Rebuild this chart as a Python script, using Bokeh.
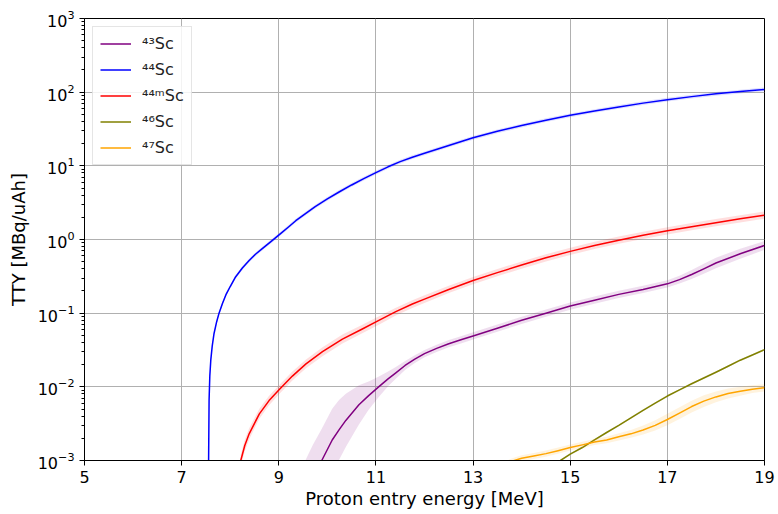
from bokeh.plotting import figure
from bokeh.models import ColumnDataSource, FixedTicker, LogTickFormatter
from bokeh.embed import file_html
from bokeh.resources import INLINE

# ---- data ----
sc43_e = [9.5, 9.7, 9.885, 10.1, 10.24, 10.38, 10.65, 10.85, 11.05, 11.25, 11.41, 11.6, 11.8, 12.0,
          12.25, 12.5, 12.75, 13.0, 13.5, 14.0, 14.5, 15.0, 15.5, 16.0, 16.5, 17.0, 17.25, 17.5,
          17.75, 18.0, 18.5, 19.0]
sc43_y = [0.00032, 0.0006, 0.001, 0.0019, 0.0026, 0.0035, 0.0057, 0.0076, 0.0099, 0.0128, 0.0155,
          0.0195, 0.0238, 0.0282, 0.0333, 0.0385, 0.0435, 0.049, 0.0625, 0.080, 0.10, 0.125, 0.15,
          0.18, 0.21, 0.25, 0.285, 0.335, 0.40, 0.48, 0.64, 0.83]
sc43_f = [2.7, 2.7, 2.7, 2.65, 2.55, 2.3, 1.85, 1.55, 1.38, 1.26, 1.2, 1.15, 1.13, 1.12,
          1.12, 1.12, 1.12, 1.12, 1.12, 1.12, 1.12, 1.12, 1.12, 1.12, 1.12, 1.12, 1.13, 1.15,
          1.17, 1.18, 1.17, 1.15]

sc44_e = [7.54, 7.555, 7.565, 7.58, 7.6, 7.63, 7.667, 7.72, 7.77, 7.84, 7.91, 8.0, 8.11, 8.25, 8.39,
          8.52, 8.66, 8.85, 9.03, 9.2, 9.35, 9.55, 9.75, 10.0, 10.25, 10.5, 10.75, 11.0, 11.25, 11.5,
          11.75, 12.0, 12.5, 13.0, 13.5, 14.0, 14.5, 15.0, 15.5, 16.0, 16.5, 17.0, 17.5, 18.0, 18.5,
          19.0]
sc44_y = [0.0001, 0.001, 0.0066, 0.014, 0.023, 0.036, 0.053, 0.076, 0.1, 0.135, 0.177, 0.23, 0.31,
          0.41, 0.52, 0.63, 0.75, 0.95, 1.19, 1.48, 1.8, 2.25, 2.8, 3.55, 4.45, 5.5, 6.7, 8.1, 9.7,
          11.4, 13.1, 14.8, 18.9, 24.0, 29.4, 35.2, 41.7, 48.5, 55.5, 63, 71, 79, 87, 95, 102, 109]
sc44_f = [1.06] * len(sc44_e)

sc44m_e = [8.15, 8.217, 8.3, 8.39, 8.5, 8.6, 8.8, 9.03, 9.28, 9.56, 9.9, 10.31, 10.72, 11.05, 11.41,
           11.75, 12.0, 12.5, 13.0, 13.5, 14.0, 14.5, 15.0, 15.5, 16.0, 16.5, 17.0, 17.5, 18.0,
           18.5, 19.0]
sc44m_y = [0.0003, 0.001, 0.0016, 0.0023, 0.0032, 0.0043, 0.0065, 0.0095, 0.0140, 0.0205, 0.030,
           0.0445, 0.061, 0.079, 0.105, 0.133, 0.155, 0.21, 0.277, 0.355, 0.45, 0.565, 0.69, 0.83,
           0.98, 1.14, 1.31, 1.49, 1.69, 1.91, 2.14]
sc44m_f = [1.2, 1.2, 1.2, 1.19, 1.18, 1.17, 1.16, 1.15, 1.15, 1.15, 1.15, 1.15, 1.14, 1.14, 1.13,
           1.13, 1.13, 1.12, 1.12, 1.12, 1.12, 1.12, 1.12, 1.12, 1.12, 1.12, 1.12, 1.12, 1.12,
           1.12, 1.12]

sc46_e = [14.6, 14.8, 15.0, 15.25, 15.5, 15.75, 16.0, 16.25, 16.5, 16.75, 17.0, 17.25, 17.5, 17.75,
          18.0, 18.25, 18.5, 18.75, 19.0]
sc46_y = [0.0007, 0.001, 0.00122, 0.0015, 0.0019, 0.0024, 0.0030, 0.0038, 0.0048, 0.006, 0.0075,
          0.0091, 0.011, 0.0132, 0.0158, 0.019, 0.023, 0.027, 0.032]
sc46_f = [1.03] * len(sc46_e)

sc47_e = [13.5, 13.85, 14.0, 14.25, 14.5, 14.75, 15.0, 15.25, 15.5, 15.75, 16.0, 16.25, 16.5, 16.75,
          17.0, 17.25, 17.5, 17.75, 18.0, 18.25, 18.5, 18.75, 19.0]
sc47_y = [0.0008, 0.001, 0.00107, 0.00115, 0.00124, 0.00136, 0.0015, 0.00163, 0.00178, 0.0019,
          0.0021, 0.0023, 0.0026, 0.003, 0.0036, 0.0044, 0.0054, 0.0064, 0.0073, 0.0081, 0.0087,
          0.0093, 0.0097]
sc47_f = [1.1, 1.1, 1.1, 1.1, 1.1, 1.1, 1.1, 1.1, 1.1, 1.11, 1.12, 1.13, 1.15, 1.17, 1.2, 1.2,
          1.2, 1.2, 1.18, 1.17, 1.15, 1.13, 1.12]

labels = ["\u2074\u00b3Sc", "\u2074\u2074Sc", "\u2074\u2074\u1d50Sc", "\u2074\u2076Sc", "\u2074\u2077Sc"]
colors = ["purple", "blue", "red", "olive", "orange"]
x_ticks = [5, 7, 9, 11, 13, 15, 17, 19]
y_ticks = [1e-3, 1e-2, 1e-1, 1e0, 1e1, 1e2, 1e3]

series = [(sc43_e, sc43_y, sc43_f), (sc44_e, sc44_y, sc44_f), (sc44m_e, sc44m_y, sc44m_f),
          (sc46_e, sc46_y, sc46_f), (sc47_e, sc47_y, sc47_f)]

FONT = "DejaVu Sans"

p = figure(width=778, height=514, x_range=(5, 19), y_range=(1e-3, 1e3), y_axis_type="log",
           output_backend="svg", toolbar_location=None,
           min_border_left=84, min_border_right=14, min_border_top=18, min_border_bottom=54)
p.background_fill_color = "white"
p.border_fill_color = "white"
p.outline_line_color = "black"
p.outline_line_width = 1
p.outline_line_alpha = 1

for (e, y, f), lab, col in zip(series, labels, colors):
    lo = [v / k for v, k in zip(y, f)]
    hi = [v * k for v, k in zip(y, f)]
    src = ColumnDataSource(dict(x=e, y=y, lo=lo, hi=hi))
    p.varea(x="x", y1="lo", y2="hi", source=src, fill_color=col, fill_alpha=0.13)
    p.line(x="x", y="y", source=src, line_color=col, line_width=1.5, legend_label=lab,
           line_join="round")

minor = [m * 10.0 ** k for k in range(-3, 3) for m in range(2, 10)]
p.yaxis.ticker = FixedTicker(ticks=y_ticks, minor_ticks=minor)
p.yaxis.formatter = LogTickFormatter()
p.xaxis.ticker = FixedTicker(ticks=x_ticks)
p.xgrid.ticker = FixedTicker(ticks=x_ticks)
p.ygrid.ticker = FixedTicker(ticks=y_ticks)

for g in (p.xgrid, p.ygrid):
    g.grid_line_color = "#b0b0b0"
    g.grid_line_width = 1
    g.grid_line_alpha = 1

for ax in (p.xaxis, p.yaxis):
    ax.axis_line_color = "black"
    ax.axis_line_width = 1
    ax.major_tick_line_color = "black"
    ax.major_tick_out = 5
    ax.major_tick_in = 0
    ax.minor_tick_out = 3
    ax.minor_tick_in = 0
    ax.major_label_text_font = FONT
    ax.major_label_text_font_size = "16px"
    ax.major_label_text_color = "black"
    ax.axis_label_text_font = FONT
    ax.axis_label_text_font_size = "18px"
    ax.axis_label_text_font_style = "normal"
    ax.axis_label_text_color = "black"
p.xaxis.minor_tick_line_color = None
p.yaxis.minor_tick_line_color = "black"
p.xaxis.axis_label = "Proton entry energy [MeV]"
p.yaxis.axis_label = "TTY [MBq/uAh]"
p.xaxis.axis_label_standoff = 2
p.yaxis.axis_label_standoff = 6

lg = p.legend[0]
lg.location = "top_left"
lg.margin = 8
lg.padding = 7
lg.spacing = 7
lg.glyph_width = 31
lg.glyph_height = 19
lg.label_height = 19
lg.label_standoff = 11
lg.label_text_font = FONT
lg.label_text_font_size = "16px"
lg.label_text_color = "#222222"
lg.border_line_color = "#cccccc"
lg.border_line_width = 1
lg.background_fill_alpha = 0.85

open("out.html", "w").write(file_html(p, INLINE))
